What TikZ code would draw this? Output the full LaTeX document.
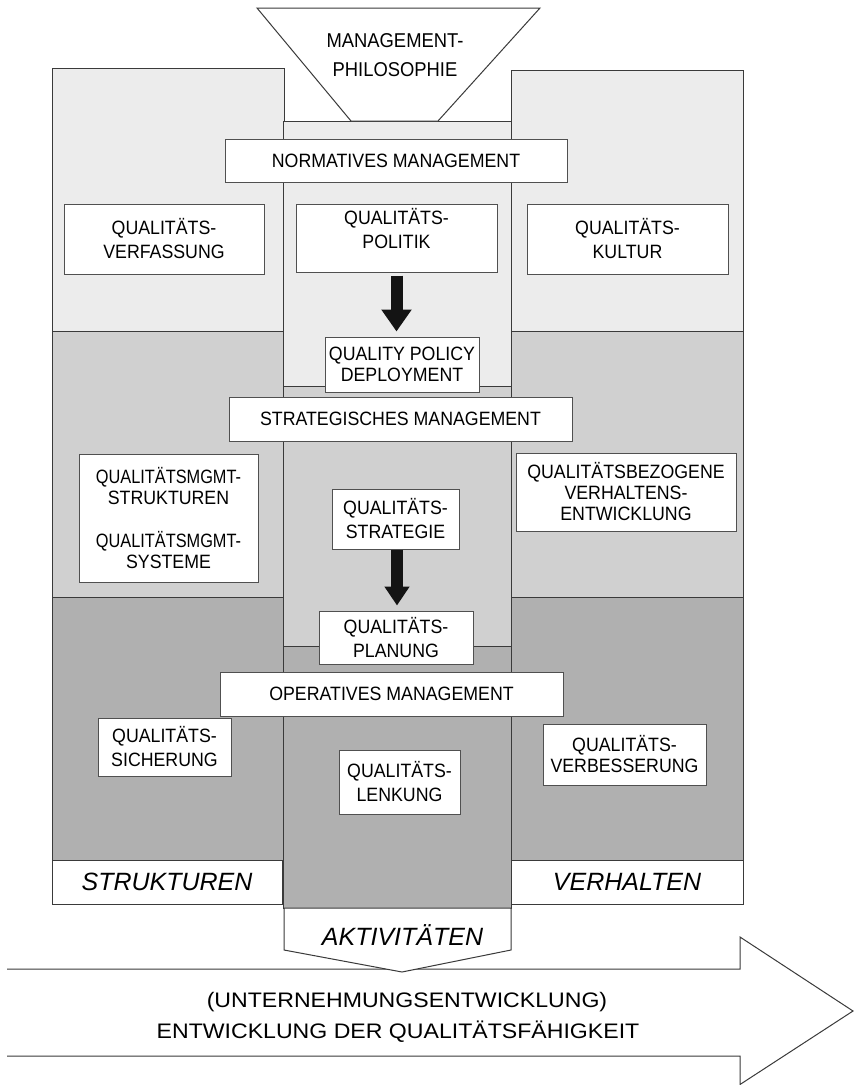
\documentclass[tikz,border=0pt]{standalone}
\usepackage{graphicx}
\usepackage{fontspec}
\setmainfont{Liberation Sans}
\newfontfamily\widefont[FakeStretch=1.1]{Liberation Sans}
\newfontfamily\narrowfont[FakeStretch=0.92]{Liberation Sans}
\usetikzlibrary{arrows.meta}
\definecolor{lightc}{HTML}{ECECEC}
\definecolor{medc}{HTML}{D0D0D0}
\definecolor{darkc}{HTML}{B0B0B0}
\definecolor{linec}{HTML}{3A3A3A}
\definecolor{boxc}{HTML}{505050}
\definecolor{arrowc}{HTML}{141414}
\newcommand\boxfont{\narrowfont\fontsize{19.3}{24}\selectfont}
\newcommand\tightfont{\narrowfont\fontsize{19.3}{21}\selectfont}
\newcommand\labelfont{\fontsize{25}{30}\selectfont\itshape}
\newcommand\funnelfont{\narrowfont\fontsize{20}{29}\selectfont}
\newcommand\arrowfont{\widefont\fontsize{21}{31}\selectfont}
\begin{document}
\begin{tikzpicture}[x=1pt,y=-1pt,
  sec/.style={draw=linec, line width=1pt},
  box/.style={draw=boxc, fill=white, line width=1pt, align=center, inner sep=0pt, font=\boxfont},
  tbox/.style={box, font=\tightfont},
  lbl/.style={draw=linec, fill=white, line width=1pt, inner sep=0pt, font=\labelfont},
  flow/.style={arrowc, line width=12pt},
  outline/.style={draw=linec, line width=1pt, line join=miter},
  free/.style={inner sep=0pt, anchor=base}
]
\useasboundingbox (0,0) rectangle (854,1085);
\fill[white] (0,0) rectangle (854,1085);

% left column
\draw[sec, fill=lightc] (52,68) rectangle (284,331);
\draw[sec, fill=medc] (52,331) rectangle (284,597);
\draw[sec, fill=darkc] (52,597) rectangle (284,860);
% right column
\draw[sec, fill=lightc] (511,70) rectangle (743,331);
\draw[sec, fill=medc] (511,331) rectangle (743,597);
\draw[sec, fill=darkc] (511,597) rectangle (743,860);
% centre column
\draw[sec, fill=lightc] (283,121) rectangle (511,386);
\draw[sec, fill=medc] (283,386) rectangle (511,646);
\draw[sec, fill=darkc] (283,646) rectangle (511,908);

% funnel
\draw[outline, fill=white] (257,8) -- (540,8) -- (438,121) -- (351,121) -- cycle;
\node[font=\funnelfont, align=center, inner sep=0pt] (philo) at (395,55) {MANAGEMENT-\\PHILOSOPHIE};

% boxes
\node[box, minimum width=342pt, minimum height=43pt] (norm) at (396,160.5) {NORMATIVES MANAGEMENT};
\node[box, minimum width=200pt, minimum height=70pt] (verf) at (164,239) {QUALITÄTS-\\VERFASSUNG};
\node[box, minimum width=201pt, minimum height=68pt] (pol) at (396.5,238) {QUALITÄTS-\\POLITIK\\[-5pt]};
\node[box, minimum width=201pt, minimum height=70pt] (kult) at (627.5,239) {QUALITÄTS-\\KULTUR};
\node[tbox, minimum width=154pt, minimum height=55pt] (qpd) at (402,364.5) {QUALITY POLICY\\DEPLOYMENT};
\node[box, minimum width=343pt, minimum height=44pt] (strat) at (400.5,419) {STRATEGISCHES MANAGEMENT};
\node[tbox, minimum width=179pt, minimum height=128pt] (mgmt) at (168.5,518) {\scalebox{0.92}[1]{QUALITÄTSMGMT-}\\STRUKTUREN\\[22pt]\scalebox{0.92}[1]{QUALITÄTSMGMT-}\\SYSTEME};
\node[box, minimum width=127pt, minimum height=60pt] (strg) at (395.5,519) {QUALITÄTS-\\STRATEGIE};
\node[tbox, minimum width=220pt, minimum height=78pt] (verh) at (626,492) {QUALITÄTSBEZOGENE\\VERHALTENS-\\ENTWICKLUNG};
\node[box, minimum width=154pt, minimum height=53pt] (plan) at (396,637.5) {QUALITÄTS-\\PLANUNG};
\node[box, minimum width=343pt, minimum height=44pt] (oper) at (391.5,694) {OPERATIVES MANAGEMENT};
\node[box, minimum width=133pt, minimum height=58pt] (sich) at (164.5,747) {QUALITÄTS-\\SICHERUNG};
\node[box, minimum width=121pt, minimum height=64pt] (lenk) at (399.5,782) {QUALITÄTS-\\LENKUNG};
\node[tbox, minimum width=163pt, minimum height=61pt] (verb) at (624.5,754.5) {QUALITÄTS-\\VERBESSERUNG};

% thick arrows
\draw[flow, -{Triangle[width=29pt,length=22pt]}, shorten <=3pt, shorten >=5pt] (pol.south) -- (pol.south |- qpd.north);
\draw[flow, -{Triangle[width=24pt,length=19pt]}, shorten >=5pt] ([xshift=1.5pt]strg.south) -- ([xshift=1.5pt]strg.south |- plan.north);

% bottom labels
\node[lbl, minimum width=230pt, minimum height=44pt] (struk) at (167,882) {STRUKTUREN};
\node[lbl, minimum width=232pt, minimum height=44pt] (verhal) at (627,882) {VERHALTEN};

% big arrow
\draw[outline] (7,969) -- (740,969) -- (740,937) -- (853,1011) -- (740,1084.5) -- (740,1056) -- (7,1056);
\node[free, font=\arrowfont] (unt) at (407,1007) {(UNTERNEHMUNGSENTWICKLUNG)};
\node[free, font=\arrowfont] (ent) at (398,1038) {ENTWICKLUNG DER QUALITÄTSFÄHIGKEIT};

% activities pentagon
\draw[outline, fill=white] (284,908) -- (511,908) -- (511,950) -- (402,972) -- (284,950) -- cycle;
\node[free, font=\labelfont] (akt) at (402.5,945) {AKTIVITÄTEN};
\end{tikzpicture}
\end{document}
